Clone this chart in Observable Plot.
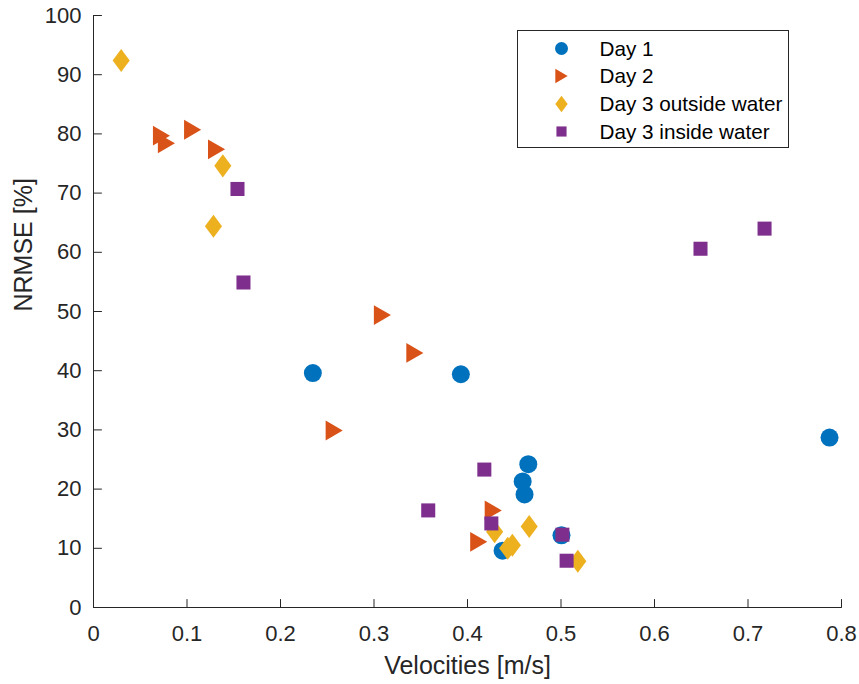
<!DOCTYPE html>
<html>
<head>
<meta charset="utf-8">
<script src="https://cdn.jsdelivr.net/npm/d3@7"></script>
<script src="https://cdn.jsdelivr.net/npm/@observablehq/plot@0.6"></script>
<style>
  html, body { margin: 0; padding: 0; background: #fff; }
  #wrap { position: relative; width: 859px; height: 684px; font-family: "Liberation Sans", Arial, Helvetica, sans-serif; }
  #legend { position: absolute; left: 0; top: 0; }
</style>
</head>
<body>
<div id="wrap"></div>
<script>
// ---- Data ----
const seriesNames = ["Day 1", "Day 2", "Day 3 outside water", "Day 3 inside water"];
const seriesColors = ["#0072BD", "#D95319", "#EDB120", "#7E2F8E"];

const day1X = [0.2346, 0.3929, 0.7872, 0.465, 0.459, 0.461, 0.4375, 0.5005];
const day1Y = [39.6, 39.4, 28.7, 24.2, 21.3, 19.1, 9.6, 12.2];

const day2X = [0.0727, 0.078, 0.106, 0.1316, 0.309, 0.3437, 0.2574, 0.4275, 0.412];
const day2Y = [79.7, 78.4, 80.7, 77.4, 49.4, 43.0, 29.9, 16.4, 11.1];

const day3OutX = [0.0296, 0.1383, 0.1283, 0.429, 0.443, 0.448, 0.466, 0.518];
const day3OutY = [92.4, 74.6, 64.4, 12.8, 10.0, 10.5, 13.7, 7.8];

const day3InX = [0.154, 0.1604, 0.6492, 0.7177, 0.418, 0.358, 0.4255, 0.5015, 0.506];
const day3InY = [70.7, 54.9, 60.6, 64.0, 23.3, 16.4, 14.2, 12.3, 7.9];

const xTicks = [0, 0.1, 0.2, 0.3, 0.4, 0.5, 0.6, 0.7, 0.8];
const yTicks = [0, 10, 20, 30, 40, 50, 60, 70, 80, 90, 100];
const xLabel = "Velocities [m/s]";
const yLabel = "NRMSE [%]";

// ---- Custom MATLAB-like marker symbols (scale t = radius) ----
const triRight = {draw(ctx, size) { const t = Math.sqrt(size / Math.PI);
  ctx.moveTo(-0.95 * t, -1.1 * t); ctx.lineTo(0.95 * t, 0); ctx.lineTo(-0.95 * t, 1.1 * t); ctx.closePath(); }};
const diamond = {draw(ctx, size) { const t = Math.sqrt(size / Math.PI);
  ctx.moveTo(0, -1.28 * t); ctx.lineTo(0.95 * t, 0); ctx.lineTo(0, 1.28 * t); ctx.lineTo(-0.95 * t, 0); ctx.closePath(); }};
const square = {draw(ctx, size) { const t = Math.sqrt(size / Math.PI); const h = 0.78 * t;
  ctx.rect(-h, -h, 2 * h, 2 * h); }};
const circle = {draw(ctx, size) { const t = Math.sqrt(size / Math.PI);
  ctx.moveTo(t, 0); ctx.arc(0, 0, t, 0, 2 * Math.PI); }};
const symbols = [circle, triRight, diamond, square];

const toRows = (xs, ys) => xs.map((x, i) => ({x, y: ys[i]}));
const seriesData = [
  toRows(day1X, day1Y), toRows(day2X, day2Y), toRows(day3OutX, day3OutY), toRows(day3InX, day3InY)
];

const axisColor = "#262626";
const tickShape = {draw(ctx, l) { ctx.moveTo(0, 0); ctx.lineTo(0, -l); }};

const chart = Plot.plot({
  width: 859, height: 684,
  marginLeft: 93, marginRight: 18, marginTop: 15, marginBottom: 77,
  style: {fontFamily: "'Liberation Sans', Arial, Helvetica, sans-serif", background: "#fff", color: axisColor},
  x: {domain: [0, 0.8]},
  y: {domain: [0, 100]},
  marks: [
    Plot.axisX(xTicks, {tickSize: 0, tickPadding: 18, fontSize: 22, label: null, fill: axisColor,
      tickFormat: d => String(d)}),
    Plot.axisY(yTicks, {tickSize: 0, tickPadding: 12, fontSize: 22, label: null, fill: axisColor,
      tickFormat: d => String(d)}),
    Plot.ruleY([0], {stroke: axisColor, strokeWidth: 1}),
    Plot.ruleX([0], {stroke: axisColor, strokeWidth: 1}),
    Plot.vector(xTicks, {x: d => d, y: 0, length: 8, rotate: 0, anchor: "start", shape: tickShape, stroke: axisColor, strokeWidth: 1}),
    Plot.vector(yTicks, {x: 0, y: d => d, length: 8, rotate: 90, anchor: "start", shape: tickShape, stroke: axisColor, strokeWidth: 1}),
    ...seriesData.map((data, i) => Plot.dot(data, {
      x: "x", y: "y", r: 9, symbol: symbols[i], fill: seriesColors[i], stroke: "none"
    })),
    Plot.text([xLabel], {frameAnchor: "bottom", dy: 58, fontSize: 25, fill: axisColor, lineAnchor: "middle", text: d => d}),
    Plot.text([yLabel], {frameAnchor: "left", dx: -69.5, rotate: -90, fontSize: 25, fill: axisColor, lineAnchor: "middle", text: d => d})
  ]
});

const wrap = document.getElementById("wrap");
wrap.appendChild(chart);

// ---- Legend (overlay) ----
const lg = d3.select(wrap).append("svg")
  .attr("id", "legend").attr("width", 859).attr("height", 684)
  .style("pointer-events", "none");
const box = lg.append("g").attr("transform", "translate(517.5,30.5)");
box.append("rect").attr("width", 271).attr("height", 117)
  .attr("fill", "#fff").attr("stroke", axisColor).attr("stroke-width", 1);
const rowY = [18, 45.5, 73.5, 101];
seriesNames.forEach((name, i) => {
  const g = box.append("g").attr("transform", `translate(0,${rowY[i]})`);
  g.append("path").attr("transform", "translate(44,0)")
    .attr("d", d3.symbol(symbols[i], Math.PI * 6.5 * 6.5)())
    .attr("fill", seriesColors[i]);
  g.append("text").attr("x", 82).attr("y", 0).attr("dy", "0.35em")
    .attr("font-size", 20.7).attr("fill", "#000")
    .attr("font-family", "'Liberation Sans', Arial, Helvetica, sans-serif")
    .text(name);
});
</script>
</body>
</html>
